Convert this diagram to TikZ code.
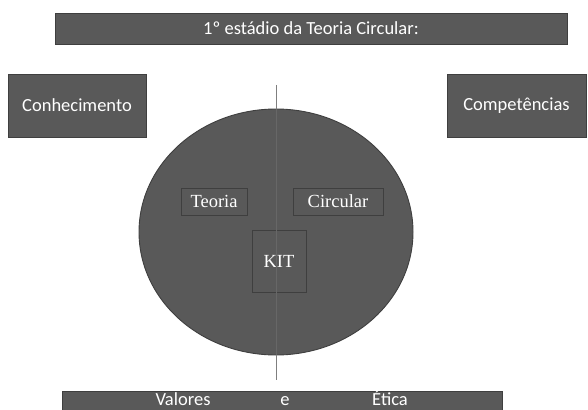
\documentclass[tikz,border=0pt]{standalone}
\usepackage{fontspec}
\usetikzlibrary{shapes.geometric}
\setmainfont{Carlito}
\newfontfamily\serifin{Liberation Serif}
\definecolor{boxfill}{HTML}{595959}
\definecolor{boxline}{HTML}{3F3F3F}
\definecolor{axisline}{HTML}{7F7F7F}
\definecolor{axisin}{HTML}{676767}
\begin{document}
\begin{tikzpicture}[x=1pt,y=-1pt,
  darkbox/.style={draw=boxline,fill=boxfill,line width=0.9pt,text=white,inner sep=0pt,font=\fontsize{18.5}{20}\selectfont},
  innerbox/.style={draw=boxline,fill=boxfill,line width=0.9pt,text=white,inner sep=0pt,font=\serifin\fontsize{18.5}{20}\selectfont},
  bartext/.style={text=white,font=\fontsize{18.5}{20}\selectfont,anchor=base,inner sep=0pt},
  axis/.style={draw=axisline,line width=0.9pt},
  axisinner/.style={draw=axisin,line width=0.9pt}]
\useasboundingbox (0,0) rectangle (588,409);
\begin{scope}
\clip (0,0) rectangle (588,409);
% top title
\node[darkbox,minimum width=512pt,minimum height=31pt] (title) at (311,28.5) {1º estádio da Teoria Circular:};
% side boxes
\node[darkbox,minimum width=138pt,minimum height=63pt] (conh) at (77,105.5) {Conhecimento};
\node[darkbox,minimum width=139pt,minimum height=63pt] (comp) at (516.5,105.5) {Competências};
% circle
\node[draw=boxline,fill=boxfill,line width=0.9pt,ellipse,minimum width=274pt,minimum height=246pt,inner sep=0pt] (circ) at (276,232) {};
% inner boxes
\node[innerbox,minimum width=66pt,minimum height=27pt] (teoria) at (214,201.5) {Teoria};
\node[innerbox,minimum width=90pt,minimum height=27pt] (circular) at (338,201.5) {Circular};
\node[innerbox,minimum width=54pt,minimum height=62pt] (kit) at (279,261) {KIT};
% vertical axis
\coordinate (axtop) at (276,85);
\coordinate (axbot) at (276,380);
\draw[axis] (axtop) -- (circ.north);
\draw[axisinner] (circ.north) -- (circ.south);
\draw[axis] (circ.south) -- (axbot);
% bottom bar
\node[darkbox,minimum width=440pt,minimum height=28pt,anchor=north west] (bottom) at (62,391) {};
\node[bartext] (val) at (183,405.5) {Valores};
\node[bartext] (e) at (285,405.5) {e};
\node[bartext] (etica) at (390,405.5) {Ética};
\end{scope}
\end{tikzpicture}
\end{document}
